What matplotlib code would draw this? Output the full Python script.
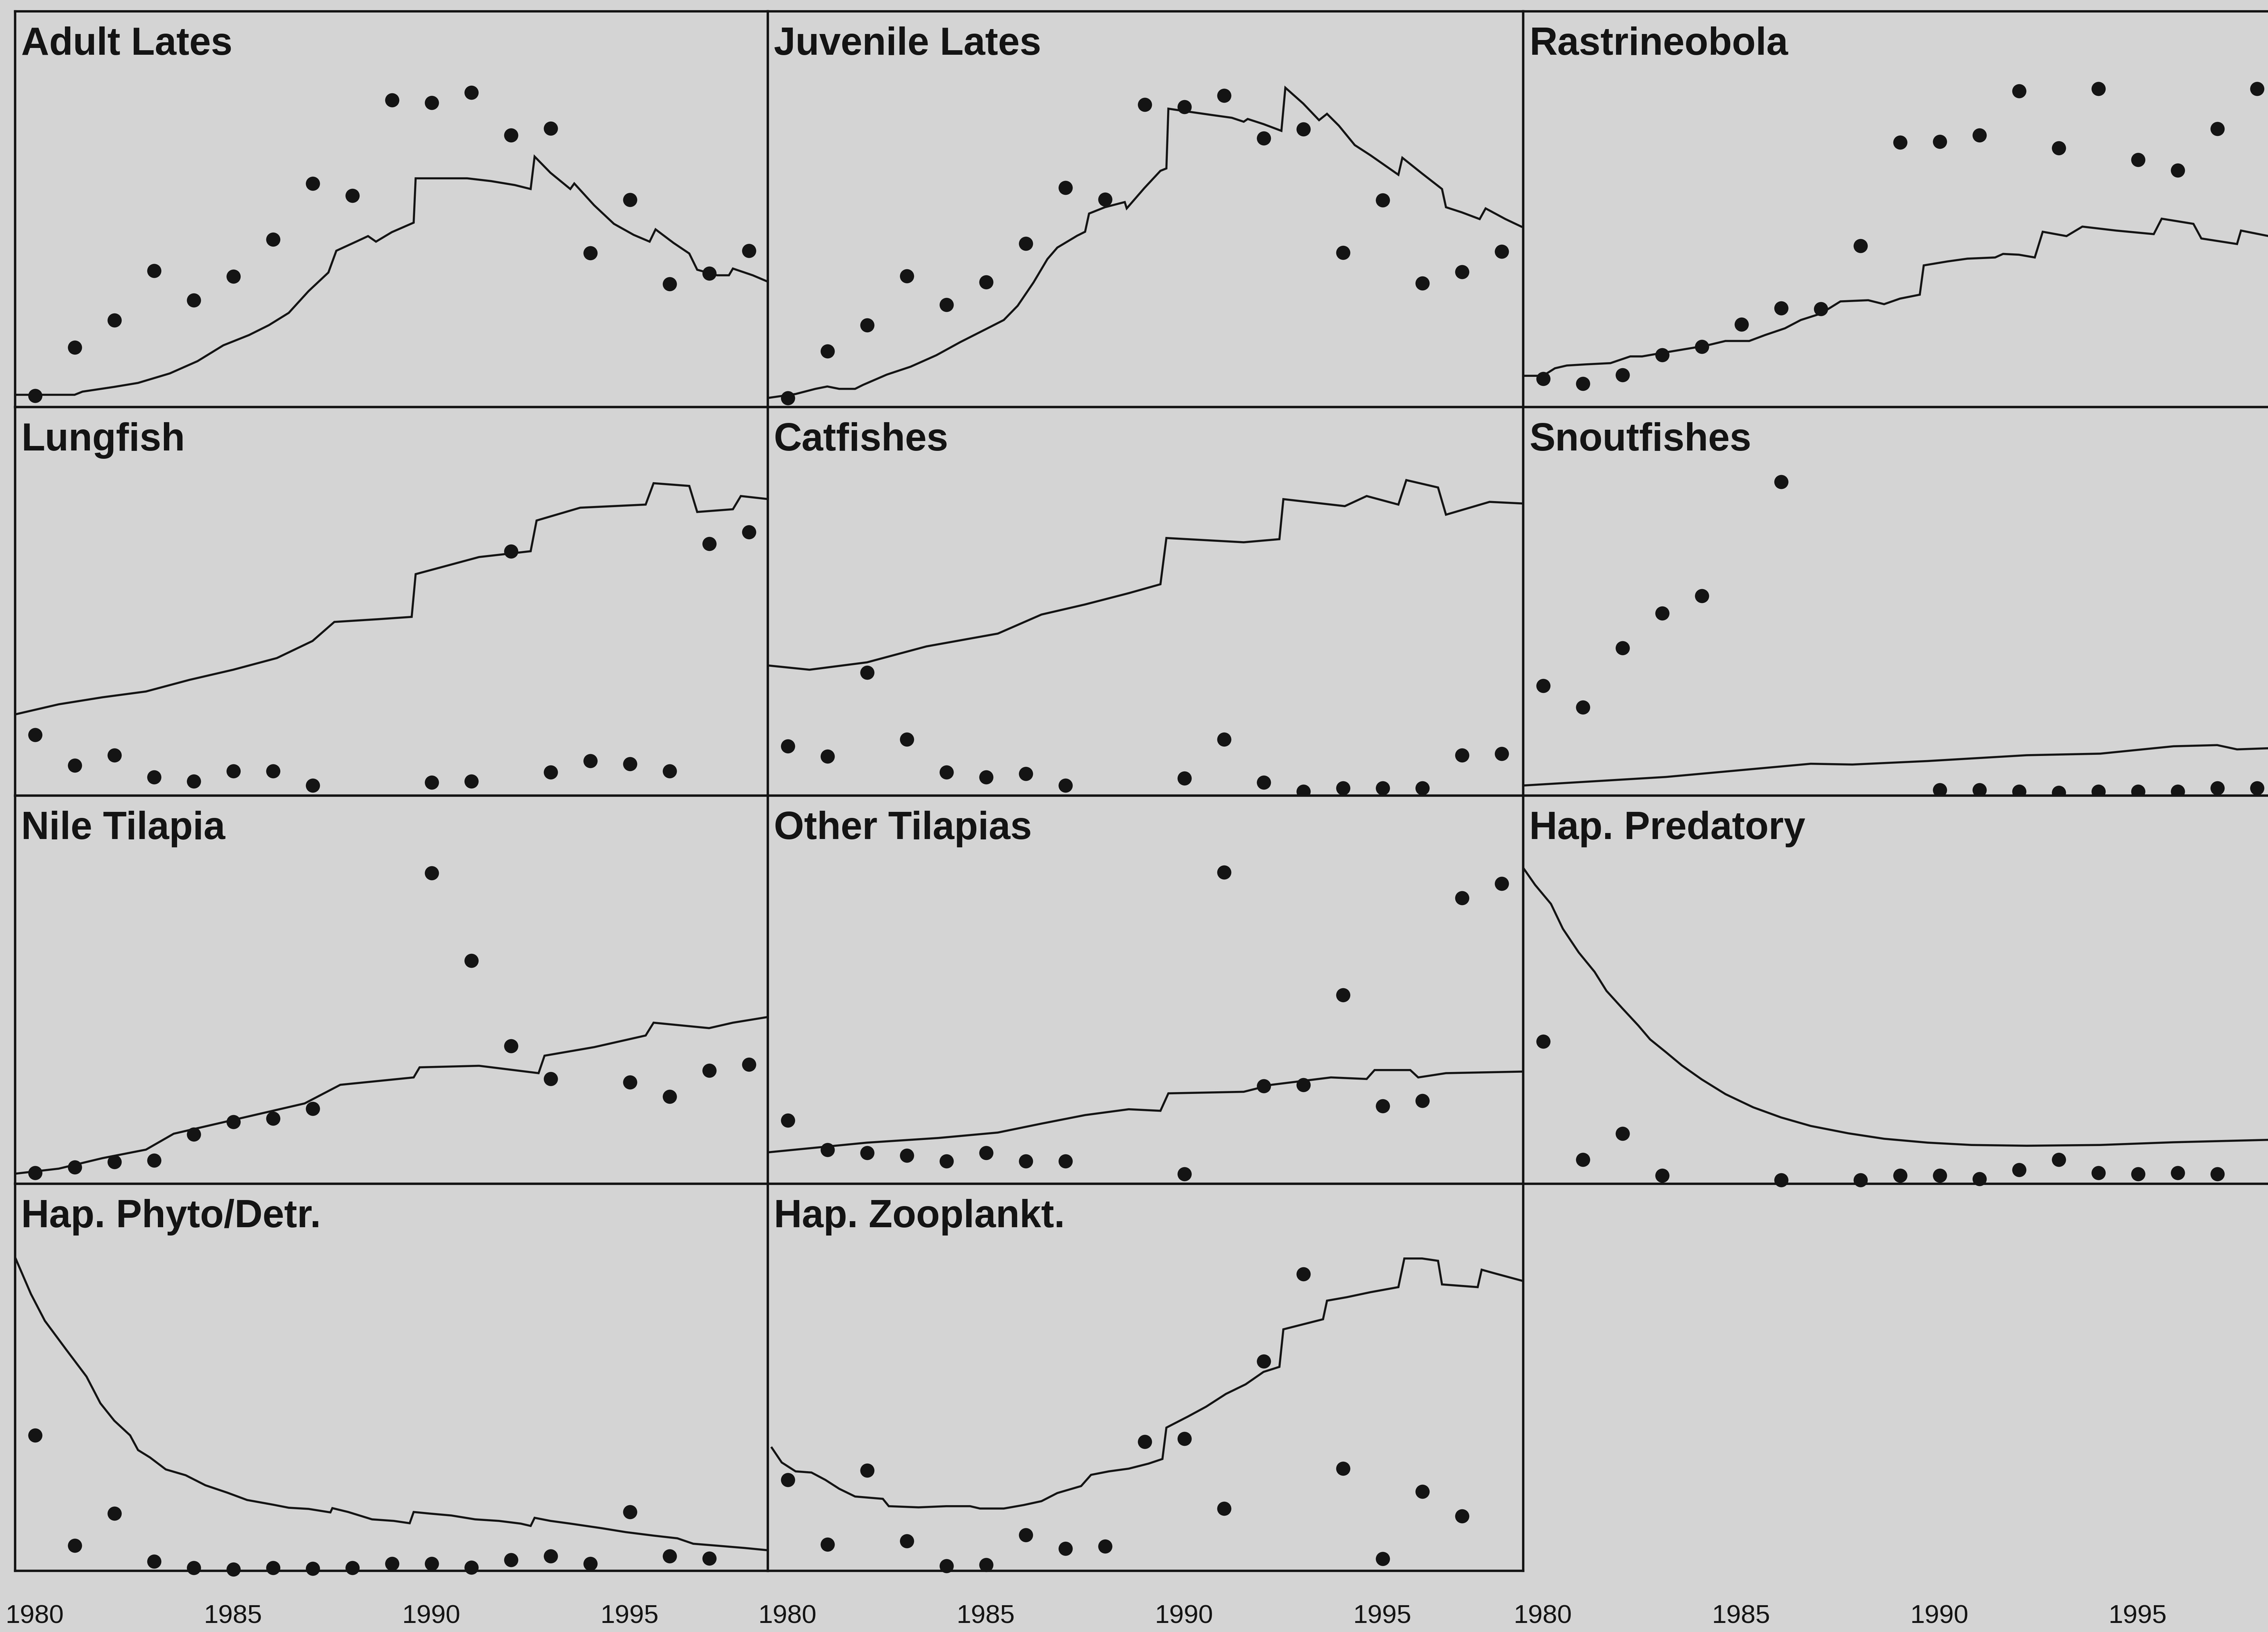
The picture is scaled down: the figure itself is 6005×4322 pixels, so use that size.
import numpy as np
import matplotlib
matplotlib.use("Agg")
import matplotlib.pyplot as plt

plt.rcParams['font.family'] = ['Liberation Sans', 'DejaVu Sans']

# ---------------------------------------------------------------------------
# Observations (one value per survey year, relative biomass, None = no survey)
# ---------------------------------------------------------------------------
obs_years = list(range(1980, 1999))

adult_lates_obs = [0.029, 0.151, 0.219, 0.344, 0.270, 0.330, 0.424, 0.565, 0.534, 0.776,
                   0.769, 0.795, 0.687, 0.704, 0.389, 0.524, 0.311, 0.338, 0.395]
juvenile_lates_obs = [0.023, 0.141, 0.207, 0.331, 0.259, 0.316, 0.413, 0.554, 0.525, 0.764,
                      0.759, 0.787, 0.679, 0.702, 0.390, 0.523, 0.313, 0.342, 0.393]
rastrineobola_obs = [0.072, 0.059, 0.081, 0.132, 0.153, 0.209, 0.250, 0.248, 0.407, 0.669,
                     0.671, 0.687, 0.799, 0.655, 0.804, 0.625, 0.598, 0.703, 0.804]
lungfish_obs = [0.156, 0.078, 0.104, 0.048, 0.037, 0.063, 0.063, 0.026, None, None,
                0.034, 0.037, 0.629, 0.060, 0.089, 0.082, 0.063, 0.648, 0.678]
catfishes_obs = [0.127, 0.101, 0.317, 0.145, 0.060, 0.048, 0.056, 0.026, None, None,
                 0.045, 0.145, 0.034, 0.011, 0.019, 0.019, 0.019, 0.104, 0.108]
snoutfishes_obs = [0.283, 0.227, 0.380, 0.469, 0.514, None, 0.808, None, None, None,
                   0.015, 0.015, 0.011, 0.008, 0.011, 0.011, 0.011, 0.019, 0.019]
nile_tilapia_obs = [0.028, 0.043, 0.056, 0.060, 0.127, 0.160, 0.168, 0.194, None, None,
                    0.801, 0.575, 0.355, 0.270, None, 0.262, 0.225, 0.292, 0.307]
other_tilapias_obs = [0.163, 0.088, 0.080, 0.073, 0.058, 0.080, 0.058, 0.058, None, None,
                      0.025, 0.803, 0.252, 0.255, 0.486, 0.200, 0.214, 0.736, 0.773]
hap_predatory_obs = [0.367, 0.062, 0.129, 0.021, None, None, 0.010, None, 0.010, 0.021,
                     0.021, 0.013, 0.036, 0.062, 0.028, 0.025, 0.028, 0.025, None]
hap_phyto_obs = [0.350, 0.065, 0.148, 0.024, 0.008, 0.004, 0.008, 0.006, 0.008, 0.019,
                 0.019, 0.009, 0.028, 0.038, 0.019, 0.152, 0.038, 0.032, None]
hap_zoo_obs = [0.235, 0.068, 0.260, 0.077, 0.013, 0.016, 0.093, 0.058, 0.063, 0.334,
               0.341, 0.161, 0.541, 0.767, 0.264, 0.031, 0.205, 0.141, None]

# ---------------------------------------------------------------------------
# Model trajectories (time in years, relative biomass)
# ---------------------------------------------------------------------------
adult_lates_t = [1979.5, 1981.0, 1981.2, 1982.0, 1982.6, 1983.4, 1984.1, 1984.75, 1985.4, 1985.9,
                 1986.4, 1986.9, 1987.4, 1987.6, 1988.1, 1988.4, 1988.6, 1989.0, 1989.55, 1989.6,
                 1990.1, 1990.9, 1991.5, 1992.1, 1992.5, 1992.6, 1993.0, 1993.5, 1993.6, 1994.1,
                 1994.6, 1995.1, 1995.5, 1995.65, 1996.1, 1996.5, 1996.7, 1997.2, 1997.5, 1997.6,
                 1998.1, 1998.5]
adult_lates_model = [0.031, 0.031, 0.039, 0.051, 0.061, 0.085, 0.116, 0.156, 0.182, 0.207,
                     0.238, 0.293, 0.340, 0.395, 0.418, 0.432, 0.418, 0.442, 0.466, 0.578,
                     0.578, 0.578, 0.571, 0.561, 0.551, 0.633, 0.592, 0.551, 0.565, 0.510,
                     0.463, 0.435, 0.418, 0.449, 0.415, 0.388, 0.347, 0.333, 0.333, 0.350,
                     0.333, 0.316]

juvenile_lates_t = [1979.5, 1980.2, 1980.7, 1981.0, 1981.3, 1981.7, 1981.9, 1982.5, 1983.1, 1983.75,
                    1984.35, 1985.0, 1985.45, 1985.8, 1986.2, 1986.55, 1986.8, 1987.3, 1987.5, 1987.6,
                    1988.0, 1988.5, 1988.55, 1989.0, 1989.4, 1989.55, 1989.6, 1990.0, 1990.7, 1991.2,
                    1991.5, 1991.6, 1992.0, 1992.45, 1992.55, 1993.0, 1993.4, 1993.6, 1993.9, 1994.3,
                    1994.7, 1995.4, 1995.5, 1996.0, 1996.5, 1996.6, 1997.0, 1997.45, 1997.6, 1998.1,
                    1998.5]
juvenile_lates_model = [0.023, 0.033, 0.046, 0.052, 0.046, 0.046, 0.056, 0.082, 0.102, 0.131,
                        0.164, 0.197, 0.220, 0.256, 0.315, 0.374, 0.403, 0.433, 0.443, 0.489,
                        0.505, 0.518, 0.502, 0.554, 0.597, 0.603, 0.754, 0.748, 0.738, 0.731,
                        0.721, 0.728, 0.715, 0.698, 0.807, 0.767, 0.725, 0.741, 0.711, 0.662,
                        0.636, 0.587, 0.630, 0.590, 0.551, 0.505, 0.492, 0.475, 0.502, 0.475,
                        0.456]

rastrineobola_t = [1979.5, 1980.0, 1980.3, 1980.6, 1981.1, 1981.7, 1982.2, 1982.5, 1982.9, 1983.5,
                   1984.1, 1984.6, 1985.2, 1985.6, 1986.1, 1986.5, 1987.0, 1987.5, 1988.2, 1988.6,
                   1989.0, 1989.5, 1989.6, 1990.2, 1990.7, 1991.4, 1991.6, 1992.0, 1992.4, 1992.6,
                   1993.2, 1993.6, 1994.45, 1995.4, 1995.6, 1996.4, 1996.6, 1997.5, 1997.6, 1998.3,
                   1998.6]
rastrineobola_model = [0.079, 0.079, 0.098, 0.105, 0.108, 0.111, 0.128, 0.128, 0.135, 0.145,
                       0.155, 0.167, 0.167, 0.182, 0.199, 0.220, 0.236, 0.267, 0.270, 0.260,
                       0.274, 0.284, 0.358, 0.368, 0.375, 0.378, 0.387, 0.385, 0.378, 0.443,
                       0.432, 0.456, 0.446, 0.437, 0.476, 0.463, 0.426, 0.412, 0.446, 0.432,
                       0.430]

lungfish_t = [1979.5, 1980.6, 1981.7, 1982.8, 1983.9, 1985.0, 1986.1, 1987.0, 1987.55, 1988.65,
              1989.5, 1989.6, 1991.2, 1992.5, 1992.65, 1993.75, 1995.4, 1995.6, 1996.5, 1996.7,
              1997.6, 1997.8, 1998.5]
lungfish_model = [0.209, 0.235, 0.253, 0.268, 0.298, 0.324, 0.354, 0.398, 0.447, 0.454,
                  0.460, 0.570, 0.614, 0.629, 0.708, 0.741, 0.749, 0.804, 0.797, 0.730,
                  0.737, 0.771, 0.763]

catfishes_t = [1979.5, 1980.55, 1982.0, 1983.5, 1985.3, 1986.4, 1987.5, 1988.6, 1989.4, 1989.55,
               1991.5, 1992.4, 1992.5, 1994.05, 1994.6, 1995.4, 1995.6, 1996.4, 1996.6, 1997.7,
               1998.5]
catfishes_model = [0.335, 0.324, 0.343, 0.384, 0.417, 0.466, 0.492, 0.521, 0.544, 0.663,
                   0.652, 0.660, 0.763, 0.745, 0.771, 0.749, 0.812, 0.793, 0.723, 0.756,
                   0.752]

snoutfishes_t = [1979.5, 1983.1, 1986.75, 1987.8, 1989.7, 1992.2, 1994.05, 1995.9, 1997.0, 1997.5,
                 1998.6]
snoutfishes_model = [0.026, 0.048, 0.082, 0.080, 0.089, 0.104, 0.108, 0.127, 0.130, 0.119,
                     0.123]

nile_tilapia_t = [1979.5, 1980.6, 1981.7, 1982.8, 1983.5, 1984.6, 1985.7, 1986.8, 1987.7, 1989.55,
                  1989.7, 1991.2, 1992.7, 1992.85, 1994.1, 1995.4, 1995.6, 1997.0, 1997.6, 1998.5]
nile_tilapia_model = [0.026, 0.039, 0.066, 0.088, 0.129, 0.155, 0.181, 0.207, 0.255, 0.274,
                      0.300, 0.304, 0.285, 0.330, 0.352, 0.382, 0.415, 0.401, 0.415, 0.430]

other_tilapias_t = [1979.5, 1982.0, 1983.8, 1985.3, 1986.4, 1987.5, 1988.6, 1989.4, 1989.6, 1991.5,
                    1992.2, 1993.7, 1994.6, 1994.8, 1995.7, 1995.9, 1996.6, 1998.5]
other_tilapias_model = [0.081, 0.106, 0.118, 0.132, 0.155, 0.177, 0.192, 0.188, 0.233, 0.237,
                        0.255, 0.274, 0.270, 0.293, 0.293, 0.274, 0.285, 0.289]

hap_predatory_t = [1979.5, 1979.8, 1980.2, 1980.5, 1980.9, 1981.3, 1981.6, 1982.0, 1982.4, 1982.7,
                   1983.1, 1983.5, 1984.0, 1984.6, 1985.3, 1986.0, 1986.75, 1987.7, 1988.6, 1989.7,
                   1990.8, 1992.2, 1994.05, 1995.9, 1998.6]
hap_predatory_model = [0.814, 0.770, 0.721, 0.657, 0.596, 0.546, 0.497, 0.452, 0.408, 0.372,
                       0.339, 0.305, 0.269, 0.231, 0.197, 0.171, 0.149, 0.130, 0.116, 0.106,
                       0.100, 0.098, 0.100, 0.107, 0.114]

hap_phyto_t = [1979.5, 1979.9, 1980.25, 1980.8, 1981.3, 1981.65, 1982.0, 1982.4, 1982.6, 1982.9,
               1983.3, 1983.8, 1984.3, 1984.85, 1985.35, 1986.0, 1986.4, 1986.9, 1987.45, 1987.5,
               1987.9, 1988.5, 1989.05, 1989.45, 1989.55, 1989.95, 1990.5, 1991.1, 1991.7, 1992.25,
               1992.5, 1992.6, 1993.0, 1993.5, 1994.3, 1994.9, 1995.6, 1996.2, 1996.6, 1997.2,
               1997.9, 1998.5]
hap_phyto_model = [0.810, 0.715, 0.646, 0.570, 0.502, 0.433, 0.388, 0.350, 0.312, 0.293,
                   0.262, 0.247, 0.221, 0.202, 0.183, 0.171, 0.163, 0.160, 0.151, 0.162,
                   0.152, 0.133, 0.129, 0.123, 0.152, 0.148, 0.143, 0.133, 0.129, 0.122,
                   0.116, 0.137, 0.129, 0.122, 0.110, 0.100, 0.091, 0.084, 0.070, 0.065,
                   0.059, 0.053]

hap_zoo_t = [1979.6, 1979.85, 1980.2, 1980.6, 1980.95, 1981.3, 1981.7, 1982.4, 1982.55, 1983.3,
             1984.0, 1984.6, 1984.85, 1985.45, 1985.95, 1986.4, 1986.8, 1987.4, 1987.65, 1988.1,
             1988.6, 1989.1, 1989.45, 1989.55, 1990.1, 1990.55, 1991.05, 1991.55, 1992.0, 1992.4,
             1992.5, 1993.0, 1993.5, 1993.6, 1994.1, 1994.7, 1995.4, 1995.55, 1996.0, 1996.4,
             1996.5, 1997.4, 1997.5, 1997.85, 1998.5]
hap_zoo_model = [0.318, 0.280, 0.257, 0.254, 0.235, 0.212, 0.192, 0.186, 0.167, 0.164,
                 0.167, 0.167, 0.161, 0.161, 0.170, 0.180, 0.201, 0.219, 0.248, 0.257,
                 0.264, 0.277, 0.289, 0.370, 0.399, 0.424, 0.457, 0.482, 0.514, 0.527,
                 0.624, 0.637, 0.650, 0.698, 0.707, 0.720, 0.733, 0.807, 0.807, 0.801,
                 0.740, 0.733, 0.778, 0.768, 0.750]

panel_titles = ["Adult Lates", "Juvenile Lates", "Rastrineobola",
                "Lungfish", "Catfishes", "Snoutfishes",
                "Nile Tilapia", "Other Tilapias", "Hap. Predatory",
                "Hap. Phyto/Detr.", "Hap. Zooplankt."]
tick_years = [1980, 1985, 1990, 1995]
tick_labels = ["1980", "1985", "1990", "1995"]

panels = [
    (adult_lates_obs, adult_lates_t, adult_lates_model),
    (juvenile_lates_obs, juvenile_lates_t, juvenile_lates_model),
    (rastrineobola_obs, rastrineobola_t, rastrineobola_model),
    (lungfish_obs, lungfish_t, lungfish_model),
    (catfishes_obs, catfishes_t, catfishes_model),
    (snoutfishes_obs, snoutfishes_t, snoutfishes_model),
    (nile_tilapia_obs, nile_tilapia_t, nile_tilapia_model),
    (other_tilapias_obs, other_tilapias_t, other_tilapias_model),
    (hap_predatory_obs, hap_predatory_t, hap_predatory_model),
    (hap_phyto_obs, hap_phyto_t, hap_phyto_model),
    (hap_zoo_obs, hap_zoo_t, hap_zoo_model),
]

# ---------------------------------------------------------------------------
# Layout (pixel grid of a 6005 x 4322 canvas)
# ---------------------------------------------------------------------------
W, H, DPI = 6005, 4322, 100
BG = "#d4d4d4"
INK = "#141414"
PX_PER_YEAR = 105.0
X0 = 1979.5

col_left = [40, 2033, 4033]
col_width = [1993, 2000, 2002]
row_top = [30, 1078, 2107, 3135]
row_height = [1048, 1029, 1028, 1025]

fig = plt.figure(figsize=(W / DPI, H / DPI), dpi=DPI, facecolor=BG)


def make_axes(r, c):
    l, w = col_left[c], col_width[c]
    t, h = row_top[r], row_height[r]
    ax = fig.add_axes([l / W, 1 - (t + h) / H, w / W, h / H])
    ax.set_facecolor(BG)
    ax.set_xlim(X0, X0 + w / PX_PER_YEAR)
    ax.set_ylim(0, 1)
    ax.set_yticks([])
    for s in ax.spines.values():
        s.set_linewidth(4.5)
        s.set_color(INK)
    ax.tick_params(axis="x", length=0, pad=64, labelsize=50, labelcolor=INK)
    ax.set_xticks(tick_years)
    return ax


for i, (title, (obs, t, model)) in enumerate(zip(panel_titles, panels)):
    r, c = divmod(i, 3)
    ax = make_axes(r, c)
    ax.plot(t, model, color=INK, lw=4.0, solid_joinstyle="miter", zorder=2)
    y = np.array([np.nan if v is None else v for v in obs], dtype=float)
    ax.plot(obs_years, y, linestyle="none", marker="o", ms=27, mew=0,
            color=INK, zorder=3, clip_on=False)
    ax.annotate(title, xy=(0, 1), xycoords="axes fraction", xytext=(16, -40),
                textcoords="offset pixels", ha="left", va="top",
                fontsize=74, fontweight="bold", color=INK)
    if r == 3:
        ax.set_xticklabels(tick_labels)
    else:
        ax.set_xticklabels([])

# year axis under the third column (no panel there)
ax_empty = make_axes(3, 2)
for s in ax_empty.spines.values():
    s.set_visible(False)
ax_empty.patch.set_alpha(0)
ax_empty.set_xticklabels(tick_labels)

fig.savefig("out.png", dpi=DPI, facecolor=BG)
